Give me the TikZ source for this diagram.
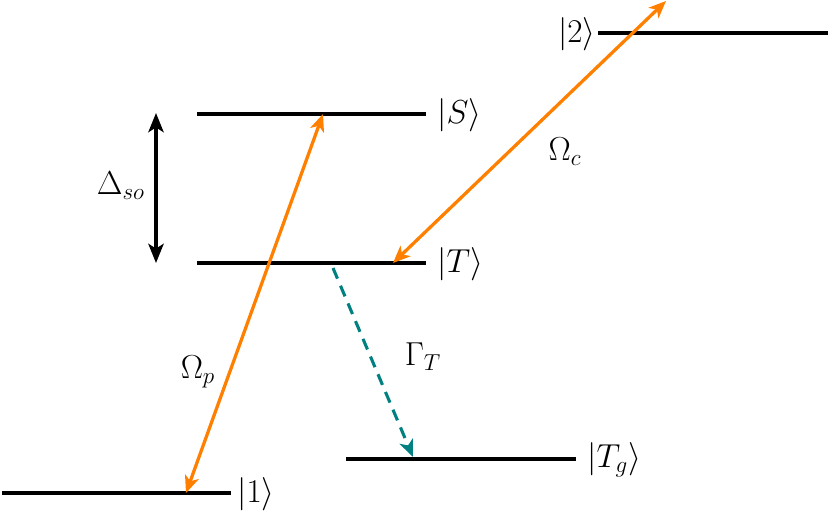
\documentclass[tikz,border=0pt]{standalone}
\usetikzlibrary{arrows.meta}
\definecolor{arrorange}{RGB}{255,128,0}
\definecolor{decayteal}{RGB}{0,128,128}
\begin{document}
\begin{tikzpicture}[x=0.52pt,y=-0.52pt,
  level/.style={line width=2pt,black},
  lbl/.style={inner sep=0pt,font=\fontsize{18}{21}\selectfont},
  tip/.style={},
  coupling/.style={line width=1.7pt,arrorange,{Stealth[length=9pt,width=7.5pt,inset=2.5pt]}-{Stealth[length=9pt,width=7.5pt,inset=2.5pt]}},
  decay/.style={line width=1.6pt,decayteal,dash pattern=on 6pt off 4pt,-{Stealth[length=9pt,width=7.5pt,inset=2.5pt]}},
  gap/.style={line width=1.6pt,black,{Stealth[length=10pt,width=8pt,inset=2.5pt]}-{Stealth[length=10pt,width=8pt,inset=2.5pt]}}]
\useasboundingbox (0,0) rectangle (830,523);
% levels
\coordinate (oneL) at (2,493);   \coordinate (oneR) at (231,493);
\coordinate (SL) at (197,114);   \coordinate (SR) at (426,114);
\coordinate (TL) at (197,263);   \coordinate (TR) at (426,263);
\coordinate (twoL) at (598,33);  \coordinate (twoR) at (828,33);
\coordinate (TgL) at (346,459);  \coordinate (TgR) at (576,459);
\draw[level] (oneL) -- (oneR);
\draw[level] (SL) -- (SR);
\draw[level] (TL) -- (TR);
\draw[level] (twoL) -- (twoR);
\draw[level] (TgL) -- (TgR);
% level labels
\node[lbl,anchor=west] (l1) at (237,494) {$|1\rangle$};
\node[lbl,anchor=west] (lS) at (437,115) {$|S\rangle$};
\node[lbl,anchor=west] (lT) at (437,264) {$|T\rangle$};
\node[lbl,anchor=east] (l2) at (596,34) {$|2\rangle$};
\node[lbl,anchor=west] (lTg) at (587,460) {$|T_g\rangle$};
% transitions
\coordinate (pA) at (186,493); \coordinate (pB) at (323,114);
\coordinate (cA) at (393,263); \coordinate (cB) at (666,1);
\coordinate (dA) at (333,268); \coordinate (dB) at (413,457);
\coordinate (gA) at (156,113); \coordinate (gB) at (156,263);
\draw[coupling] (pA) -- (pB);
\draw[coupling] (cA) -- (cB);
\draw[decay] (dA) -- (dB);
\draw[gap] (gA) -- (gB);
% transition labels
\node[lbl] (Op) at (198,372) {$\Omega_p$};
\node[lbl] (Oc) at (565,152) {$\Omega_c$};
\node[lbl] (GT) at (423,357) {$\Gamma_T$};
\node[lbl] (Dso) at (121,186) {$\Delta_{so}$};
\end{tikzpicture}
\end{document}
